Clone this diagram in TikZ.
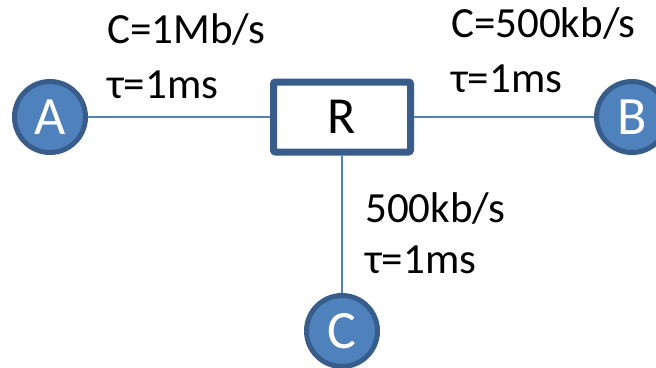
\documentclass[tikz,border=0pt]{standalone}
\usepackage{fontspec}
\setmainfont{Carlito}
\definecolor{nodefill}{HTML}{4F81BD}
\definecolor{nodeedge}{HTML}{385D8A}
\begin{document}
\begin{tikzpicture}[x=1bp,y=-1bp,
  host/.style={circle,fill=nodefill,draw=nodeedge,line width=5bp,minimum size=71bp,inner sep=0pt,
    text=white,font=\fontsize{54bp}{60bp}\selectfont},
  router/.style={rectangle,draw=nodeedge,fill=white,line width=7bp,rounded corners=2bp,
    minimum width=137bp,minimum height=70bp,inner sep=0pt,font=\fontsize{52bp}{60bp}\selectfont},
  link/.style={draw=nodefill,line width=2bp},
  lbl/.style={anchor=base west,inner sep=0pt,font=\fontsize{43bp}{55bp}\selectfont}]
\useasboundingbox (0,0) rectangle (656,367);
% nodes
\node[router] (R) at (342,117) {R};
\node[host] (A) at (50,117) {A};
\node[host] (B) at (632,117) {B};
\node[host] (C) at (342,331) {C};
% links
\draw[link] (A) -- (R);
\draw[link] (R) -- (B);
\draw[link] (R) -- (C);
% link parameters
\node[lbl] (l1a) at (107,43) {C=1Mb/s};
\node[lbl] (l1b) at (107,98) {τ=1ms};
\node[lbl] (l2a) at (451,37) {C=500kb/s};
\node[lbl] (l2b) at (451,92) {τ=1ms};
\node[lbl] (l3a) at (365,222) {500kb/s};
\node[lbl] (l3b) at (365,273) {τ=1ms};
\end{tikzpicture}
\end{document}
